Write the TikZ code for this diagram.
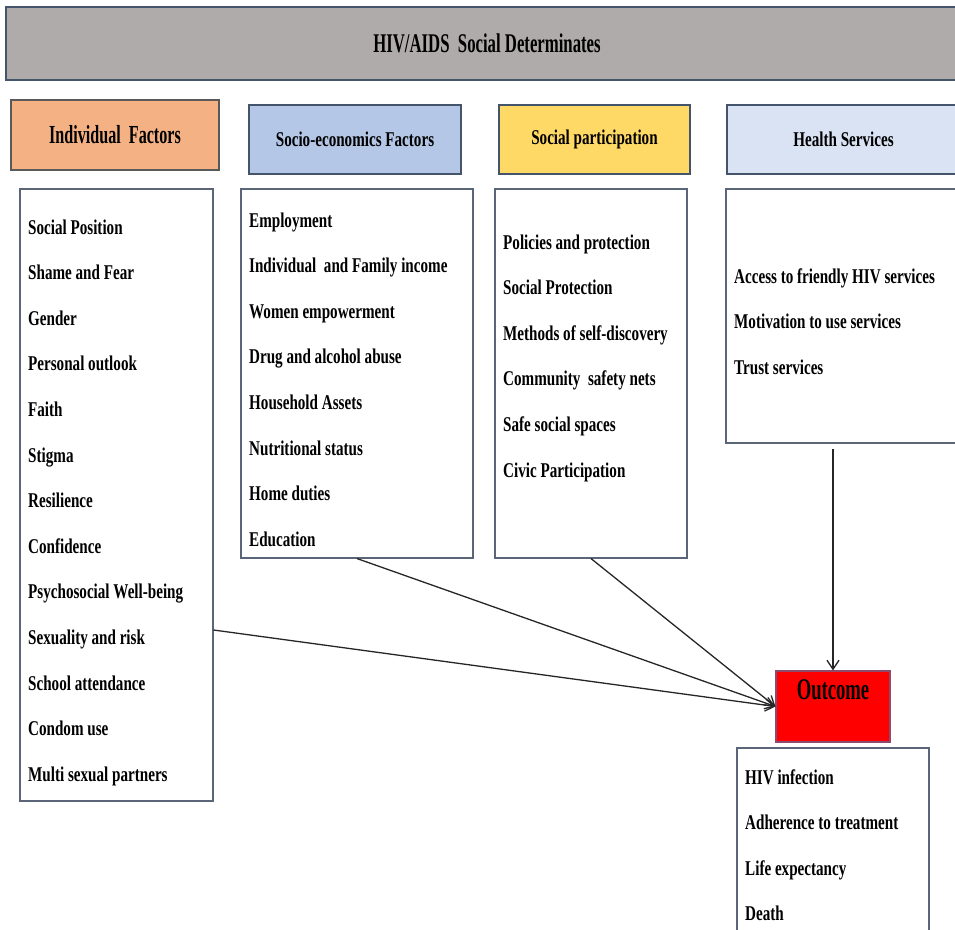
\documentclass[tikz,border=0pt]{standalone}
\usepackage{fontspec}
\setmainfont[FakeStretch=0.72]{Liberation Serif}
\newfontfamily\condfont[FakeStretch=0.62]{Liberation Serif}
\usetikzlibrary{arrows.meta}
\definecolor{hdrgray}{HTML}{AFABAB}
\definecolor{indor}{HTML}{F4B183}
\definecolor{socbl}{HTML}{B4C7E7}
\definecolor{spyel}{HTML}{FFD966}
\definecolor{hslt}{HTML}{DAE3F3}
\definecolor{boxline}{HTML}{5A6577}
\definecolor{catline}{HTML}{44546A}
\definecolor{outred}{HTML}{FF0000}
\definecolor{outborder}{HTML}{8E4A6A}
\definecolor{arrowc}{HTML}{262626}
\begin{document}
\begin{tikzpicture}[x=1pt,y=-1pt,
  item/.style={anchor=west, inner sep=0pt, text height=14pt, text depth=0pt,
    font=\bfseries\fontsize{21}{24}\selectfont},
  listbox/.style={draw=boxline, line width=1.1pt, fill=white, inner sep=0pt},
  catbox/.style={draw=catline, line width=1.3pt, inner sep=0pt,
    font=\bfseries\fontsize{21}{24}\selectfont},
  conn/.style={draw=arrowc, line width=1.3pt,
    -{Straight Barb[length=9pt,width=12pt,line width=1.3pt]}}
]
\useasboundingbox (0,0) rectangle (955,929);
\clip (0,0) rectangle (955,929);

% header
\node[catbox, fill=hdrgray, minimum width=962pt, minimum height=73pt,
  font=\condfont\bfseries\fontsize{27}{30}\selectfont] (hdr) at (487,43.5) {HIV/AIDS\ \ Social Determinates};

% category boxes
\node[catbox, fill=indor, draw=black!65, minimum width=208pt, minimum height=70pt,
  font=\condfont\bfseries\fontsize{26}{30}\selectfont] (indc) at (115,135) {Individual\ \ Factors};
\node[catbox, fill=socbl, minimum width=212pt, minimum height=69pt] (socc) at (355,139.5) {Socio-economics Factors};
\node[catbox, fill=spyel, minimum width=191pt, minimum height=69pt] (spc) at (594.5,139.5) {Social participation};
\node[catbox, fill=hslt, minimum width=233pt, minimum height=69pt] (hsc) at (843.5,139.5) {Health Services};

% list boxes
\node[listbox, minimum width=193pt, minimum height=612pt] (indl) at (116.5,495) {};
\node[listbox, minimum width=232pt, minimum height=369pt] (socl) at (357,373.5) {};
\node[listbox, minimum width=192pt, minimum height=369pt] (spl) at (591,373.5) {};
\node[listbox, minimum width=240pt, minimum height=254pt] (hsl) at (846,316) {};
\node[listbox, minimum width=192pt, minimum height=202pt] (outl) at (833,849) {};

% outcome box
\node[draw=outborder, fill=outred, line width=1.2pt, minimum width=114pt, minimum height=71pt, inner sep=0pt] (outc) at (833,706.5) {};
\node[inner sep=0pt, font=\condfont\bfseries\fontsize{30}{32}\selectfont] (outt) at (833,690) {Outcome};

% items
\foreach \t [count=\k from 0] in {Social Position, Shame and Fear, Gender, Personal outlook, Faith, Stigma, Resilience, Confidence, Psychosocial Well-being, Sexuality and risk, School attendance, Condom use, Multi sexual partners}
  \node[item] (ind\k) at (28,{227+45.6*\k}) {\t};
\foreach \t [count=\k from 0] in {Employment, Individual\ \ and Family income, Women empowerment, Drug and alcohol abuse, Household Assets, Nutritional status, Home duties, Education}
  \node[item] (soc\k) at (249,{220+45.6*\k}) {\t};
\foreach \t [count=\k from 0] in {Policies and protection, Social Protection, Methods of self-discovery, Community\ \ safety nets, Safe social spaces, Civic Participation}
  \node[item] (sp\k) at (503,{242+45.6*\k}) {\t};
\foreach \t [count=\k from 0] in {Access to friendly HIV services, Motivation to use services, Trust services}
  \node[item] (hs\k) at (734,{276+45.6*\k}) {\t};
\foreach \t [count=\k from 0] in {HIV infection, Adherence to treatment, Life expectancy, Death}
  \node[item] (out\k) at (745,{777+45.6*\k}) {\t};

% connectors
\draw[conn] ([yshift=-135pt]indl.east) -- (outc.west);
\draw[conn] (socl.south) -- (outc.west);
\draw[conn] (spl.south) -- (outc.west);
\draw[conn, shorten <=5pt] (outc.north |- hsl.south) -- (outc.north);
\end{tikzpicture}
\end{document}
